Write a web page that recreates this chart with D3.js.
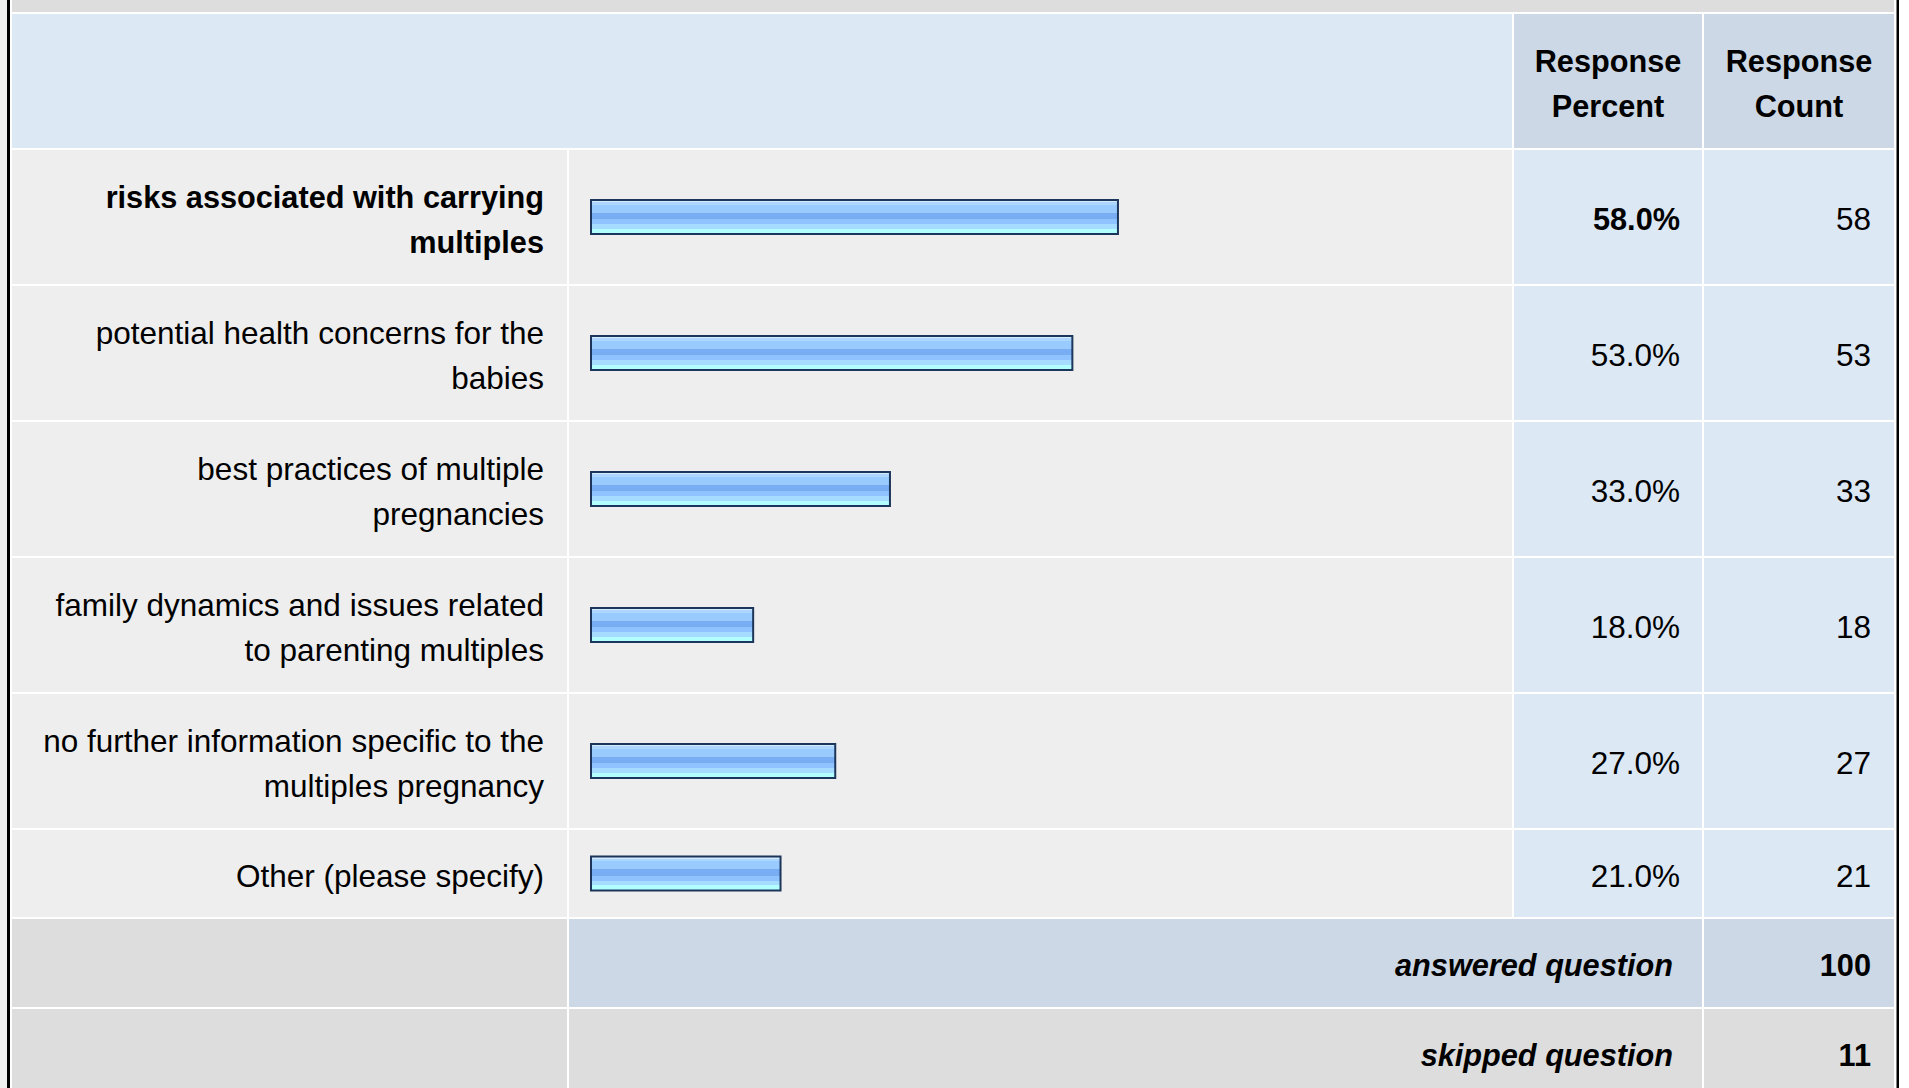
<!DOCTYPE html>
<meta charset="utf-8">
<title>Response table</title>
<script src="https://d3js.org/d3.v7.min.js"></script>
<style>
  body { margin: 0; background: #fff; overflow: hidden; }
  svg { display: block; font-family: "Liberation Sans", Arial, Helvetica, sans-serif; }
</style>
<body>
<div id="chart"></div>
<script>
  // survey data
  var answers = [
    "risks associated with carrying multiples",
    "potential health concerns for the babies",
    "best practices of multiple pregnancies",
    "family dynamics and issues related to parenting multiples",
    "no further information specific to the multiples pregnancy",
    "Other (please specify)"
  ];
  var percents = [58.0, 53.0, 33.0, 18.0, 27.0, 21.0];
  var counts = [58, 53, 33, 18, 27, 21];
  var headers = [["Response", "Percent"], ["Response", "Count"]];
  var answeredCount = 100;
  var skippedCount = 11;

  var width = 1909, height = 1088;
  var lineH = 45, fs = 31.5, fsBold = 30.7;

  // column edges
  var col = {
    label: [12, 567],
    bar: [569, 1512],
    pct: [1514, 1702],
    cnt: [1704, 1894]
  };

  var svg = d3.select("#chart").append("svg")
    .attr("width", width)
    .attr("height", height);

  var defs = svg.append("defs");
  var grad = defs.append("linearGradient")
    .attr("id", "barGrad")
    .attr("x1", 0).attr("y1", 0).attr("x2", 0).attr("y2", 1);
  var stops = [
    [0, "#d3ebff"], [0.07, "#d3ebff"],
    [0.07, "#add6ff"], [0.14, "#add6ff"],
    [0.14, "#9acbff"], [0.38, "#9acbff"],
    [0.38, "#78acf3"], [0.56, "#78acf3"],
    [0.56, "#8ec3ff"], [0.72, "#8ec3ff"],
    [0.72, "#a6dcff"], [0.84, "#a6dcff"],
    [0.84, "#b2ffff"], [1, "#b2ffff"]
  ];
  grad.selectAll("stop").data(stops).enter().append("stop")
    .attr("offset", function(d) { return d[0]; })
    .attr("stop-color", function(d) { return d[1]; });

  // backgrounds
  svg.append("rect").attr("x", 0).attr("y", 0).attr("width", 7).attr("height", height).attr("fill", "#f0f0f0");
  svg.append("rect").attr("x", 10).attr("y", 0).attr("width", 1886).attr("height", height).attr("fill", "#fff");

  // measure + wrap labels
  var measure = svg.append("text").attr("font-size", fs).attr("opacity", 0);
  function wrap(str, bold, maxW) {
    measure.attr("font-weight", bold ? "bold" : "normal").attr("font-size", bold ? fsBold : fs);
    var words = str.split(" "), lines = [], cur = "";
    words.forEach(function(w) {
      var test = cur ? cur + " " + w : w;
      measure.text(test);
      if (measure.node().getComputedTextLength() > maxW && cur) {
        lines.push(cur);
        cur = w;
      } else {
        cur = test;
      }
    });
    lines.push(cur);
    return lines;
  }

  var rows = answers.map(function(a, i) {
    return {
      label: a,
      lines: wrap(a, i === 0, 515),
      pct: percents[i],
      count: counts[i],
      bold: i === 0
    };
  });
  measure.remove();

  // row layout
  var y = 150;
  rows.forEach(function(r) {
    r.h = r.lines.length === 1 ? 87 : r.lines.length * lineH + 44;
    r.y = y;
    r.cy = y + r.h / 2;
    y += r.h + 2;
  });
  var answeredY = y, skippedY = y + 90;

  function cell(x0, x1, y0, h, fill) {
    svg.append("rect").attr("x", x0).attr("y", y0)
      .attr("width", x1 - x0).attr("height", h).attr("fill", fill);
  }

  function textLines(lines, x, cy, anchor, bold, italic) {
    var t = svg.append("text")
      .attr("text-anchor", anchor)
      .attr("font-size", bold ? fsBold : fs)
      .attr("font-weight", bold ? "bold" : "normal")
      .attr("font-style", italic ? "italic" : "normal")
      .attr("fill", "#000");
    var first = cy - (lines.length - 1) * lineH / 2 + 13;
    lines.forEach(function(l, i) {
      t.append("tspan").attr("x", x).attr("y", first + i * lineH).text(l);
    });
  }

  // top strip (previous row)
  cell(12, 1894, 0, 12, "#dddddd");

  // header
  cell(12, 1512, 14, 134, "#dde8f5");
  cell(col.pct[0], col.pct[1], 14, 134, "#ccd8e5");
  cell(col.cnt[0], col.cnt[1], 14, 134, "#ccd8e5");
  textLines(headers[0], (col.pct[0] + col.pct[1]) / 2, 81, "middle", true);
  textLines(headers[1], (col.cnt[0] + col.cnt[1]) / 2, 81, "middle", true);

  var x = d3.scaleLinear().domain([0, 100]).range([590, 1502]);

  rows.forEach(function(r) {
    cell(col.label[0], col.label[1], r.y, r.h, "#eeeeee");
    cell(col.bar[0], col.bar[1], r.y, r.h, "#eeeeee");
    cell(col.pct[0], col.pct[1], r.y, r.h, "#dde8f5");
    cell(col.cnt[0], col.cnt[1], r.y, r.h, "#dde8f5");
    textLines(r.lines, col.label[1] - 23, r.cy, "end", r.bold);
    textLines([r.pct.toFixed(1) + "%"], col.pct[1] - 22, r.cy, "end", r.bold);
    textLines([String(r.count)], col.cnt[1] - 23, r.cy, "end", false);
  });

  // bars
  svg.append("g").selectAll("rect")
    .data(rows)
    .enter().append("rect")
    .attr("x", x(0) + 1)
    .attr("y", function(d) { return d.cy - 17; })
    .attr("width", function(d) { return x(d.pct) - x(0) - 2; })
    .attr("height", 34)
    .attr("fill", "url(#barGrad)")
    .attr("stroke", "#1c355a")
    .attr("stroke-width", 2);

  // summary rows
  cell(col.label[0], col.label[1], answeredY, 88, "#dddddd");
  cell(col.bar[0], col.pct[1], answeredY, 88, "#ccd8e5");
  cell(col.cnt[0], col.cnt[1], answeredY, 88, "#ccd8e5");
  textLines(["answered question"], 1673, answeredY + 44, "end", true, true);
  textLines([String(answeredCount)], col.cnt[1] - 23, answeredY + 44, "end", true);

  cell(col.label[0], col.label[1], skippedY, 88, "#dddddd");
  cell(col.bar[0], col.pct[1], skippedY, 88, "#dddddd");
  cell(col.cnt[0], col.cnt[1], skippedY, 88, "#dddddd");
  textLines(["skipped question"], 1673, skippedY + 44, "end", true, true);
  textLines([String(skippedCount)], col.cnt[1] - 23, skippedY + 44, "end", true);

  // outer borders
  svg.append("rect").attr("x", 7).attr("y", 0).attr("width", 3).attr("height", height).attr("fill", "#000");
  svg.append("rect").attr("x", 1896.5).attr("y", 0).attr("width", 2.5).attr("height", height).attr("fill", "#000");
</script>
</body>
